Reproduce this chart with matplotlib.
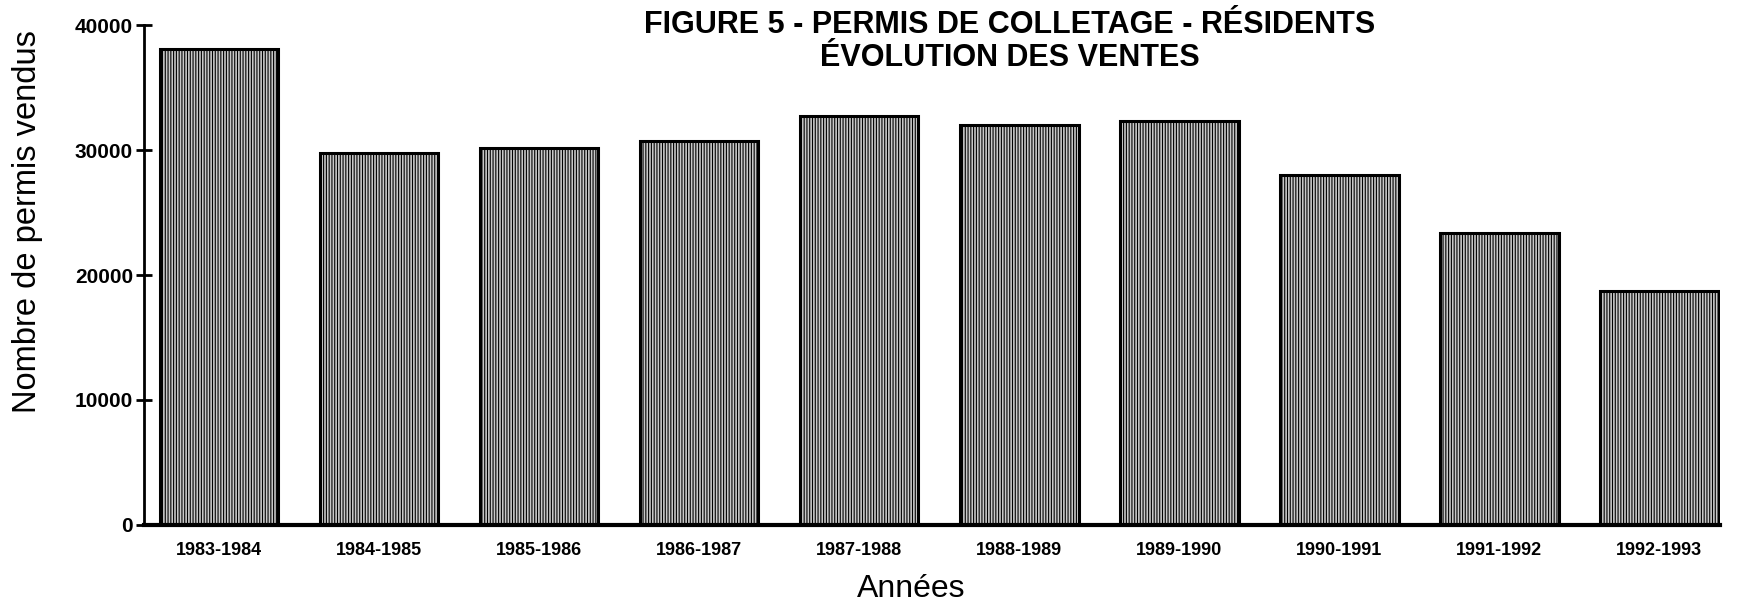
import matplotlib.pyplot as plt
import numpy as np

plt.rcParams['font.family'] = ['Liberation Sans', 'DejaVu Sans']
plt.rcParams['hatch.color'] = '#3c3c3c'
plt.rcParams['hatch.linewidth'] = 0.8

# data
saisons = ['1983-1984', '1984-1985', '1985-1986', '1986-1987', '1987-1988',
           '1988-1989', '1989-1990', '1990-1991', '1991-1992', '1992-1993']
permis = [38100, 29800, 30200, 30700, 32700, 32000, 32300, 28000, 23400, 18700]
yticks = [0, 10000, 20000, 30000, 40000]


def draw(saisons, permis):
    fig = plt.figure(figsize=(17.59, 6.04), dpi=100)
    ax = fig.add_axes([0.0819, 0.1308, 0.896, 0.8278])

    X = np.arange(len(saisons))
    ax.bar(X, permis, width=0.74, color='#c8c8c8', edgecolor='black',
           linewidth=2.2, hatch='||||||')

    ax.set_xlim(-0.47, 9.38)
    ax.set_ylim(0, 40000)
    ax.set_yticks(yticks)
    ax.set_yticklabels([str(v) for v in yticks], fontsize=15, fontweight='bold')
    ax.set_xticks(X)
    ax.set_xticklabels(saisons, fontsize=13, fontweight='bold')

    ax.tick_params(axis='y', direction='inout', length=12, width=2, pad=2)
    ax.tick_params(axis='x', length=0, pad=12)

    ax.spines['top'].set_visible(False)
    ax.spines['right'].set_visible(False)
    ax.spines['left'].set_linewidth(2)
    ax.spines['bottom'].set_linewidth(3)

    ax.set_xlabel('Années', fontsize=23)
    ax.xaxis.set_label_coords(0.487, -0.098)
    fig.text(0.0155, 0.634, 'Nombre de permis vendus', rotation=90,
             fontsize=23.5, ha='center', va='center')

    fig.text(0.574, 0.931, 'FIGURE 5 - PERMIS DE COLLETAGE - RÉSIDENTS\nÉVOLUTION DES VENTES',
             fontsize=22, fontweight='bold', ha='center', va='center',
             linespacing=1.15)

    plt.savefig('out.png', dpi=100)


if __name__ == '__main__':
    draw(saisons, permis)
